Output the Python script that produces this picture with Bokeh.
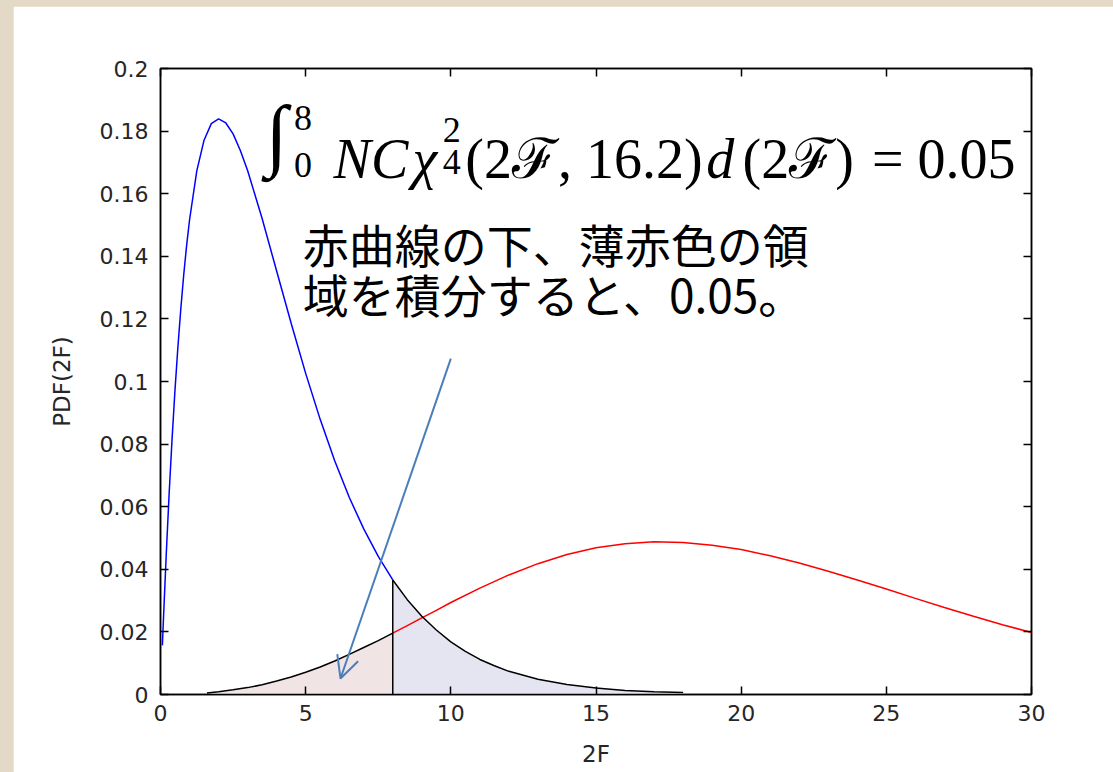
from bokeh.plotting import figure
from bokeh.models import (ColumnDataSource, Range1d, LinearAxis, FixedTicker,
                          CustomJSTickFormatter, Label, Arrow, OpenHead)
from bokeh.layouts import column
from bokeh.embed import file_html
from bokeh.resources import INLINE

# ---- data ----
# central chi-square PDF (blue curve, black beyond the threshold)
chi2_x = [0.065, 0.1, 0.2, 0.3, 0.4, 0.5, 0.6, 0.7, 0.8, 0.9, 1.0, 1.25, 1.5, 1.75,
          2.0, 2.25, 2.5, 2.75, 3.0, 3.5, 4.0, 4.5, 5.0, 5.5, 6.0, 6.5, 7.0, 7.5,
          8.0, 8.5, 9.0, 9.5, 10.0, 10.5, 11.0, 11.5, 12.0, 13.0, 14.0, 15.0,
          16.0, 17.0, 18.0]
chi2_y = [0.0157, 0.0238, 0.0452, 0.0646, 0.0819, 0.0974, 0.1111, 0.1233, 0.1341,
          0.1435, 0.1516, 0.1673, 0.1771, 0.1824, 0.1839, 0.1826, 0.1791, 0.1738,
          0.1674, 0.1521, 0.1353, 0.1186, 0.1026, 0.0879, 0.0747, 0.0630, 0.0529,
          0.0441, 0.0366, 0.0303, 0.0250, 0.0206, 0.0168, 0.0138, 0.0112, 0.0092,
          0.0074, 0.0049, 0.0032, 0.0021, 0.0013, 0.0009, 0.0006]
# non-central chi-square PDF (red curve, black below the threshold)
ncx2_x = [1.6, 2.0, 2.5, 3.0, 3.5, 4.0, 4.5, 5.0, 5.5, 6.0, 6.5, 7.0, 7.5, 8.0,
          8.5, 9.0, 9.5, 10.0, 11.0, 12.0, 13.0, 14.0, 15.0, 16.0, 17.0, 18.0,
          19.0, 20.0, 21.0, 22.0, 23.0, 24.0, 25.0, 26.0, 27.0, 28.0, 29.0, 30.0]
ncx2_y = [0.0005, 0.0009, 0.0015, 0.0022, 0.0031, 0.0043, 0.0056, 0.0071, 0.0088,
          0.0107, 0.0128, 0.0150, 0.0172, 0.0196, 0.0220, 0.0245, 0.0269, 0.0294,
          0.0340, 0.0382, 0.0418, 0.0447, 0.0469, 0.0482, 0.0488, 0.0486, 0.0477,
          0.0463, 0.0443, 0.0420, 0.0394, 0.0366, 0.0337, 0.0307, 0.0278, 0.0250,
          0.0223, 0.0198]
threshold = 8.0

x_ticks = [0, 5, 10, 15, 20, 25, 30]
x_tick_labels = ["0", "5", "10", "15", "20", "25", "30"]
y_ticks = [0, 0.02, 0.04, 0.06, 0.08, 0.1, 0.12, 0.14, 0.16, 0.18, 0.2]
y_tick_labels = ["0", "0.02", "0.04", "0.06", "0.08", "0.1", "0.12", "0.14",
                 "0.16", "0.18", "0.2"]

# ---- split the curves at the threshold ----
blue_src = ColumnDataSource(dict(x=[x for x in chi2_x if x <= threshold],
                                 y=[y for x, y in zip(chi2_x, chi2_y) if x <= threshold]))
tail_src = ColumnDataSource(dict(x=[x for x in chi2_x if x >= threshold],
                                 y=[y for x, y in zip(chi2_x, chi2_y) if x >= threshold]))
red_src = ColumnDataSource(dict(x=[x for x in ncx2_x if x >= threshold],
                                y=[y for x, y in zip(ncx2_x, ncx2_y) if x >= threshold]))
head_src = ColumnDataSource(dict(x=[x for x in ncx2_x if x <= threshold],
                                 y=[y for x, y in zip(ncx2_x, ncx2_y) if x <= threshold]))
chi2_at_thr = chi2_y[chi2_x.index(threshold)]

TICK_FONT = "DejaVu Sans"
TEXT_COL = "#262626"

p = figure(width=1100, height=766, x_range=Range1d(0, 30), y_range=Range1d(0, 0.2),
           output_backend="svg", toolbar_location=None, tools="",
           min_border_left=147, min_border_right=82, min_border_top=62,
           min_border_bottom=78, background_fill_color="white",
           border_fill_color="white", outline_line_color="black",
           outline_line_width=1.5, x_axis_label="2F", y_axis_label="PDF(2F)")
p.margin = (6, 0, 0, 13)
p.grid.visible = False

def style_axis(ax, ticks, labels, show):
    ax.ticker = FixedTicker(ticks=ticks)
    if show:
        ax.formatter = CustomJSTickFormatter(args=dict(t=ticks, l=labels), code="""
            const i = t.findIndex(v => Math.abs(v - tick) < 1e-9);
            return i >= 0 ? l[i] : '';""")
    else:
        ax.formatter = CustomJSTickFormatter(code="return '';")
    ax.major_tick_in = 8
    ax.major_tick_out = 0
    ax.minor_tick_line_color = None
    ax.axis_line_color = "black"
    ax.axis_line_width = 1.5
    ax.major_tick_line_color = "black"
    ax.major_tick_line_width = 1.5
    ax.major_label_text_font = TICK_FONT
    ax.major_label_text_font_size = "22px"
    ax.major_label_text_color = TEXT_COL
    ax.axis_label_text_font = TICK_FONT
    ax.axis_label_text_font_size = "23px"
    ax.axis_label_text_font_style = "normal"
    ax.axis_label_text_color = TEXT_COL

style_axis(p.xaxis[0], x_ticks, x_tick_labels, True)
style_axis(p.yaxis[0], y_ticks, y_tick_labels, True)
p.xaxis[0].major_label_standoff = 10
p.xaxis[0].axis_label_standoff = 17
p.yaxis[0].major_label_standoff = 12
p.yaxis[0].axis_label_standoff = 22

top_ax = LinearAxis()
right_ax = LinearAxis()
style_axis(top_ax, x_ticks, x_tick_labels, False)
style_axis(right_ax, y_ticks, y_tick_labels, False)
p.add_layout(top_ax, "above")
p.add_layout(right_ax, "right")

# ---- shaded areas ----
p.varea(x="x", y1=0, y2="y", source=head_src, fill_color="#f0e4e4")
p.varea(x="x", y1=0, y2="y", source=tail_src, fill_color="#e5e5f2")

# ---- curves ----
p.line("x", "y", source=blue_src, line_color="#0000ff", line_width=1.5)
p.line("x", "y", source=red_src, line_color="#ff0000", line_width=1.5)
p.line("x", "y", source=head_src, line_color="black", line_width=1.5)
p.line("x", "y", source=tail_src, line_color="black", line_width=1.5)
p.segment(x0=[threshold], y0=[0], x1=[threshold], y1=[chi2_at_thr],
          line_color="black", line_width=1.5)

# ---- formula ----
SERIF = "Liberation Serif"
def lab(x, y, text, size, style="normal", align="left", base="alphabetic", font=SERIF):
    p.add_layout(Label(x=x, y=y, text=text, text_font=font,
                       text_font_size=size, text_font_style=style,
                       text_align=align, text_baseline=base, text_color="black"))

base_y = 0.1712
lab(3.62, 0.1790, "∫", "80px", style="italic", base="middle")
lab(4.60, 0.1843, "8", "36px", base="middle")
lab(4.60, 0.1693, "0", "36px", base="middle")
lab(5.96, base_y, "NC", "56px", style="italic")
lab(8.68, base_y, "χ", "56px", style="italic")
lab(9.72, 0.1805, "2", "36px", base="middle")
lab(9.72, 0.1700, "4", "36px", base="middle")
lab(10.50, base_y, "(2ℱ, 16.2)", "56px")
lab(18.80, base_y, "d", "56px", style="italic")
lab(20.05, base_y, "(2ℱ)", "56px")
lab(29.45, base_y, "= 0.05", "56px", align="right")

# ---- Japanese annotation ----
JP = "Noto Sans CJK JP"
lab(4.9, 0.1444, "赤曲線の下、薄赤色の領", "46px", base="middle", font=JP)
lab(4.9, 0.1284, "域を積分すると、0.05。", "46px", base="middle", font=JP)

# ---- arrow ----
p.add_layout(Arrow(x_start=10.0, y_start=0.1073, x_end=6.2, y_end=0.0051,
                   line_color="#4a7ebb", line_width=2,
                   end=OpenHead(size=22, line_color="#4a7ebb", line_width=2)))

root = column(p, width=1113, height=772,
              styles={"background-color": "#e3d9c6"})

open("out.html", "w").write(file_html(root, INLINE))
